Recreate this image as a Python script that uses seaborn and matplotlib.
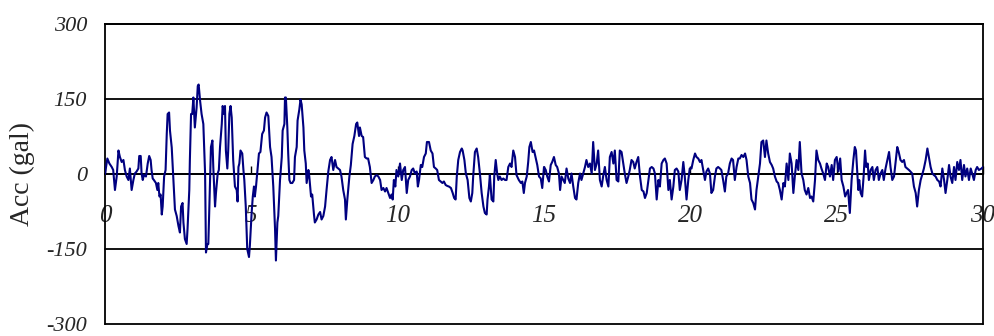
import matplotlib
matplotlib.use("Agg")
import matplotlib.pyplot as plt
import seaborn as sns
import pandas as pd

# Ground acceleration record: time (s) and acceleration (gal) at turning points
time_s = [
    0.00, 0.08, 0.15, 0.23, 0.28, 0.34, 0.40, 0.46, 0.51, 0.57, 0.63, 0.68, 0.74, 0.80, 0.85, 0.91,
    0.97, 1.02, 1.08, 1.14, 1.17, 1.22, 1.25, 1.29, 1.33, 1.40, 1.46, 1.51, 1.56, 1.59, 1.63, 1.67,
    1.74, 1.79, 1.82, 1.86, 1.90, 1.94, 1.97, 2.02, 2.07, 2.11, 2.14, 2.19, 2.22, 2.28, 2.33, 2.39,
    2.45, 2.51, 2.56, 2.60, 2.65, 2.68, 2.73, 2.79, 2.82, 2.88, 2.90, 2.94, 2.98, 3.02, 3.07, 3.13,
    3.17, 3.20, 3.25, 3.30, 3.36, 3.42, 3.45, 3.50, 3.53, 3.56, 3.62, 3.67, 3.70, 3.76, 3.79, 3.85,
    3.89, 3.93, 3.99, 4.02, 4.07, 4.10, 4.13, 4.18, 4.21, 4.25, 4.29, 4.33, 4.38, 4.44, 4.50, 4.53,
    4.56, 4.59, 4.63, 4.69, 4.73, 4.76, 4.81, 4.86, 4.92, 4.95, 5.01, 5.05, 5.09, 5.12, 5.16, 5.20,
    5.26, 5.31, 5.37, 5.43, 5.47, 5.52, 5.58, 5.64, 5.69, 5.75, 5.81, 5.84, 5.89, 5.92, 5.98, 6.04,
    6.07, 6.13, 6.15, 6.18, 6.23, 6.26, 6.30, 6.34, 6.40, 6.46, 6.49, 6.55, 6.58, 6.64, 6.68, 6.72,
    6.78, 6.81, 6.86, 6.89, 6.95, 6.98, 7.04, 7.08, 7.14, 7.17, 7.23, 7.29, 7.35, 7.40, 7.46, 7.52,
    7.57, 7.63, 7.69, 7.74, 7.80, 7.86, 7.91, 7.97, 8.03, 8.08, 8.14, 8.20, 8.23, 8.28, 8.35, 8.40,
    8.46, 8.52, 8.58, 8.62, 8.68, 8.71, 8.77, 8.82, 8.88, 8.94, 8.99, 9.05, 9.11, 9.17, 9.22, 9.28,
    9.34, 9.40, 9.45, 9.51, 9.57, 9.62, 9.68, 9.74, 9.79, 9.83, 9.87, 9.92, 9.96, 10.02, 10.08, 10.14,
    10.19, 10.25, 10.31, 10.36, 10.42, 10.48, 10.53, 10.59, 10.65, 10.69, 10.73, 10.79, 10.84, 10.90, 10.96, 11.00,
    11.07, 11.13, 11.19, 11.24, 11.30, 11.35, 11.41, 11.47, 11.53, 11.58, 11.64, 11.70, 11.75, 11.82, 11.88, 11.93,
    11.98, 12.02, 12.07, 12.13, 12.19, 12.22, 12.28, 12.33, 12.39, 12.45, 12.50, 12.55, 12.58, 12.64, 12.70, 12.75,
    12.81, 12.87, 12.93, 12.98, 13.04, 13.07, 13.12, 13.15, 13.21, 13.27, 13.30, 13.35, 13.40, 13.44, 13.49, 13.55,
    13.61, 13.67, 13.72, 13.78, 13.84, 13.89, 13.95, 14.01, 14.06, 14.14, 14.21, 14.26, 14.31, 14.35, 14.41, 14.46,
    14.50, 14.55, 14.61, 14.66, 14.71, 14.77, 14.83, 14.89, 14.94, 15.00, 15.06, 15.11, 15.17, 15.23, 15.28, 15.34,
    15.40, 15.45, 15.51, 15.55, 15.60, 15.66, 15.71, 15.77, 15.83, 15.89, 15.94, 16.00, 16.06, 16.11, 16.17, 16.23,
    16.28, 16.34, 16.40, 16.45, 16.51, 16.57, 16.63, 16.68, 16.74, 16.80, 16.85, 16.91, 16.97, 17.02, 17.08, 17.14,
    17.20, 17.25, 17.31, 17.37, 17.42, 17.48, 17.54, 17.59, 17.65, 17.71, 17.76, 17.82, 17.88, 17.93, 17.99, 18.05,
    18.10, 18.16, 18.22, 18.28, 18.34, 18.40, 18.45, 18.51, 18.57, 18.62, 18.68, 18.74, 18.79, 18.85, 18.91, 18.96,
    19.02, 19.08, 19.13, 19.19, 19.25, 19.30, 19.36, 19.42, 19.47, 19.53, 19.59, 19.64, 19.70, 19.76, 19.81, 19.87,
    19.93, 19.98, 20.04, 20.10, 20.16, 20.21, 20.27, 20.33, 20.38, 20.44, 20.50, 20.55, 20.61, 20.67, 20.72, 20.78,
    20.84, 20.89, 20.95, 21.01, 21.06, 21.12, 21.18, 21.23, 21.29, 21.35, 21.41, 21.46, 21.52, 21.58, 21.64, 21.69,
    21.75, 21.81, 21.87, 21.92, 21.98, 22.04, 22.09, 22.15, 22.21, 22.26, 22.32, 22.38, 22.43, 22.49, 22.55, 22.60,
    22.66, 22.72, 22.78, 22.83, 22.89, 22.95, 23.00, 23.06, 23.12, 23.18, 23.23, 23.29, 23.35, 23.40, 23.46, 23.52,
    23.57, 23.63, 23.69, 23.74, 23.80, 23.86, 23.91, 23.97, 24.03, 24.09, 24.14, 24.20, 24.26, 24.31, 24.37, 24.43,
    24.48, 24.54, 24.60, 24.66, 24.71, 24.77, 24.83, 24.88, 24.94, 25.00, 25.06, 25.12, 25.17, 25.23, 25.29, 25.34,
    25.39, 25.45, 25.51, 25.57, 25.62, 25.66, 25.70, 25.74, 25.77, 25.82, 25.87, 25.92, 25.97, 26.01, 26.06, 26.10,
    26.16, 26.22, 26.27, 26.33, 26.39, 26.44, 26.50, 26.56, 26.61, 26.67, 26.73, 26.79, 26.84, 26.90, 26.96, 27.01,
    27.07, 27.12, 27.18, 27.24, 27.30, 27.35, 27.41, 27.47, 27.52, 27.58, 27.64, 27.70, 27.75, 27.81, 27.87, 27.92,
    27.98, 28.04, 28.10, 28.15, 28.21, 28.27, 28.32, 28.38, 28.44, 28.50, 28.55, 28.61, 28.67, 28.72, 28.78, 28.84,
    28.89, 28.95, 29.01, 29.06, 29.12, 29.18, 29.23, 29.29, 29.35, 29.40, 29.46, 29.52, 29.58, 29.63, 29.69, 29.75,
    29.80, 29.86, 29.95, 30.00,
]
acc_gal = [
    0, 31, 21, 14, 8, -32, -5, 47, 34, 24, 28, 8, -5, -12, 11, -32,
    -12, 1, 5, 11, 36, 36, 1, -12, -2, -5, 21, 36, 28, 8, -9, -12,
    -18, -32, -18, -45, -41, -81, -65, -5, 8, 80, 120, 123, 87, 53, -5, -71,
    -84, -104, -117, -65, -58, -97, -130, -140, -110, -32, 28, 120, 120, 153, 93, 133,
    176, 179, 146, 120, 100, 1, -157, -140, -140, -78, 54, 67, 14, -65, -39, 1,
    8, 54, 100, 136, 120, 136, 47, 11, 47, 120, 136, 113, 28, -25, -32, -55,
    14, 21, 47, 41, 8, -12, -65, -150, -166, -143, -78, -45, -25, -45, -25, 1,
    41, 44, 80, 87, 113, 123, 116, 54, 34, -25, -110, -173, -97, -84, -12, 34,
    87, 100, 153, 153, 93, 41, -12, -18, -18, -12, 34, 54, 107, 129, 149, 139,
    93, 47, 21, -18, 8, -5, -45, -41, -81, -97, -91, -81, -76, -91, -84, -65,
    -32, 5, 28, 34, 8, 28, 14, 11, 8, -5, -32, -51, -91, -51, -5, 18,
    60, 76, 100, 103, 76, 93, 76, 74, 34, 31, 31, 14, -18, -12, -5, -2,
    -5, -12, -32, -28, -35, -28, -38, -48, -41, -51, -12, -25, 8, -5, 21, -12,
    8, 14, -38, -12, -5, 8, 11, 1, 5, -25, -12, 18, 14, 34, 41, 64,
    64, 47, 41, 14, 11, 8, -12, -15, -18, -15, -22, -24, -25, -28, -38, -48,
    -51, -5, 28, 44, 51, 47, 28, 1, -12, -48, -55, -38, -5, 44, 51, 34,
    1, -38, -65, -78, -81, -51, -25, -2, -51, -55, -5, 28, 1, -12, -5, -12,
    -9, -12, -12, 14, 21, 14, 47, 34, -2, -12, -18, -15, -38, -18, -5, 24,
    54, 64, 44, 47, 34, 18, -5, -9, -28, 14, 8, -5, -15, 18, 24, 34,
    18, 14, 1, -32, -5, -12, -18, 11, -9, -18, 1, -25, -48, -51, -18, 1,
    -12, 1, 14, 28, 14, 21, 1, 64, 8, 21, 47, -12, -25, -5, 14, -12,
    -25, 34, 44, 21, 47, -12, -15, 47, 44, 21, 1, -18, -5, 8, 28, 24,
    11, 24, 34, -5, -32, -35, -48, -38, -12, 11, 14, 11, 1, -51, -12, -25,
    21, 28, 31, 21, -32, -12, -51, -25, 8, 11, 5, -32, -12, 24, -5, -51,
    -12, 11, 11, 28, 41, 34, 31, 24, 28, 8, -12, 5, 11, 1, -38, -32,
    -5, 11, 14, 11, 8, -12, -35, -5, 1, 21, 31, 28, -12, 14, 31, 31,
    38, 34, 41, 28, -5, -18, -51, -58, -71, -32, -5, 21, 64, 67, 34, 67,
    41, 24, 18, 11, -5, -15, -18, -32, -51, -18, -25, 21, -12, 41, 21, -38,
    -5, 28, 8, 64, 1, -12, -32, -41, -28, -48, -45, -55, -12, 47, 28, 21,
    11, 1, -12, 21, 14, -5, 18, -12, 28, 34, 5, 31, -12, -25, -45, -38,
    -32, -78, -12, 28, 54, 47, 8, -32, -12, -38, -45, -5, 47, 14, 21, -12,
    8, 14, -12, 8, 14, -12, 1, 8, -12, 11, 28, 44, 14, -12, -5, 21,
    54, 44, 28, 24, 28, 14, 11, 8, 5, 1, -25, -38, -65, -32, -12, -2,
    11, 28, 51, 34, 14, 1, -2, -5, -12, -15, -25, 11, -12, -38, -12, 18,
    -5, -18, 14, -12, 24, 8, 28, -12, 18, -5, 11, -12, 11, 1, -12, 8,
    14, 8, 11, 14,
]

x_ticks = [0, 5, 10, 15, 20, 25, 30]
y_ticks = [-300, -150, 0, 150, 300]
y_label = "Acc (gal)"

sns.set_theme(style="white")
plt.rcParams["font.family"] = ["Liberation Serif", "DejaVu Serif"]

fig = plt.figure(figsize=(9.94, 3.36), dpi=100)
ax = fig.add_axes([105 / 994, 12 / 336, 878 / 994, 300 / 336])

df = pd.DataFrame({"time": time_s, "acc": acc_gal})
sns.lineplot(data=df, x="time", y="acc", ax=ax, color="#000080",
             linewidth=1.5, estimator=None, sort=False, zorder=3)

ax.set_xlim(0, 30)
ax.set_ylim(-300, 300)

# horizontal reference lines at every y tick
for v in y_ticks:
    ax.axhline(v, color="black", linewidth=1.3, zorder=1, clip_on=False)

for side in ("left", "right", "top"):
    ax.spines[side].set_color("black")
    ax.spines[side].set_linewidth(1.3)
ax.spines["bottom"].set_position(("data", 0))
ax.spines["bottom"].set_color("black")
ax.spines["bottom"].set_linewidth(1.3)

ax.set_xticks(x_ticks)
ax.set_xticklabels([str(v) for v in x_ticks], fontsize=18, fontstyle="italic")
ax.set_yticks(y_ticks)
ax.set_yticklabels([str(v) for v in y_ticks], fontsize=16, fontstyle="italic")
ax.tick_params(axis="x", direction="in", length=6, width=1, color="black",
               pad=22, bottom=True)
ax.tick_params(axis="y", length=0, pad=13)

ax.set_xlabel("")
ax.set_ylabel(y_label, fontsize=20)
ax.yaxis.set_label_coords(-0.08, 0.5)

fig.savefig("out.png", dpi=100)
